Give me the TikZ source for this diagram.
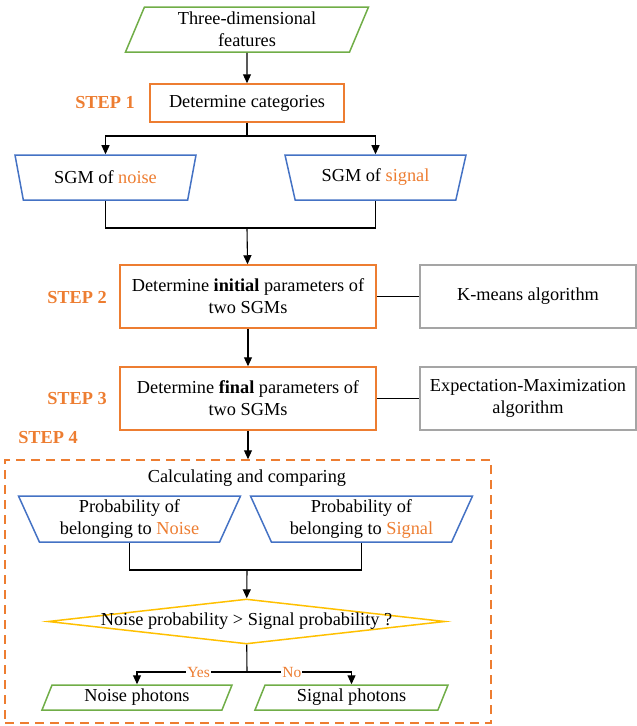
\documentclass[tikz,border=0pt]{standalone}
\usepackage{fontspec}
\setmainfont{Liberation Serif}
\usetikzlibrary{shapes.geometric,arrows.meta}
\definecolor{stepor}{HTML}{ED7D31}
\definecolor{datagr}{HTML}{70AD47}
\definecolor{modelbl}{HTML}{4472C4}
\definecolor{algogr}{HTML}{A5A5A5}
\definecolor{testyl}{HTML}{FFC000}
\begin{document}
\begin{tikzpicture}[
        x=1pt, y=-1pt,
        font=\fontsize{18.3}{22}\selectfont,
        proc/.style={draw=stepor, line width=1.5pt, align=center, minimum width=256pt, minimum height=63pt},
        algo/.style={draw=algogr, line width=1.5pt, align=center, minimum width=216pt, minimum height=63pt},
        data/.style={trapezium, trapezium stretches body, trapezium left angle=64, trapezium right angle=116, draw=datagr, line width=1.5pt, align=center, inner sep=2pt},
        model/.style={trapezium, trapezium stretches body, trapezium left angle=116, trapezium right angle=116, draw=modelbl, line width=1.5pt, align=center, inner sep=2pt},
        test/.style={diamond, draw=testyl, line width=1.5pt, inner sep=0pt, minimum width=397pt, minimum height=45pt},
        steplabel/.style={text=stepor, font=\fontsize{18.3}{22}\selectfont\bfseries},
        answer/.style={text=stepor, fill=white, inner sep=1pt, font=\fontsize{15.5}{18}\selectfont},
        forward/.style={-{Triangle[width=8pt,length=9pt]}, line width=1.1pt},
        link/.style={line width=1.1pt}
    ]
        \useasboundingbox (0,0) rectangle (637,726);
        % steps 1 to 3
        \node[data, minimum width=243pt, minimum height=45pt] (feat) at (247,29.5) {Three-dimensional\\features};
        \node[proc, minimum width=194pt, minimum height=38pt] (cat) at (247,103) {Determine categories};
        \node[steplabel] (s1) at (105,103) {STEP 1};
        \node[model, minimum width=181pt, minimum height=45pt] (sgmn) at (105.5,177.5) {SGM of \textcolor{stepor}{noise}};
        \node[model, minimum width=181pt, minimum height=45pt] (sgms) at (375.5,177.5) {SGM of \textcolor{stepor}{signal}};
        \node[proc] (init) at (248,296.5) {Determine \textbf{initial} parameters of\\two SGMs};
        \node[algo] (kmeans) at (528,296.5) {K-means algorithm};
        \node[steplabel] (s2) at (77,298) {STEP 2};
        \node[proc] (final) at (248,398.5) {Determine \textbf{final} parameters of\\two SGMs};
        \node[algo] (em) at (528,398.5) {Expectation-Maximization\\algorithm};
        \node[steplabel] (s3) at (77,399) {STEP 3};
        \coordinate (b1) at (247,136);
        \coordinate (m1) at (247,228);
        \draw[forward] (feat) -- (cat);
        \draw[forward] (cat) -- (b1) -| (sgmn);
        \draw[forward] (b1) -| (sgms);
        \draw[link] (sgmn.south) |- (m1) -| (sgms.south);
        \draw[forward] (m1) -- (init);
        \draw[link] (init) -- (kmeans);
        \draw[forward] (init) -- (final);
        \draw[link] (final) -- (em);
        % step 4
        \node[draw=stepor, dash pattern=on 9pt off 6pt, line width=1.5pt, minimum width=486pt, minimum height=263pt] (frame) at (248,591.5) {};
        \node[steplabel] (s4) at (48,438) {STEP 4};
        \draw[forward] (final) -- (frame.north);
        \node (calc) at (247,478) {Calculating and comparing};
        \node[model, minimum width=222pt, minimum height=46pt] (pn) at (129.5,519) {Probability of\\belonging to \textcolor{stepor}{Noise}};
        \node[model, minimum width=222pt, minimum height=46pt] (ps) at (361.5,519) {Probability of\\belonging to \textcolor{stepor}{Signal}};
        \node[test] (dec) at (246.5,621.5) {\makebox[0pt]{Noise probability > Signal probability ?}};
        \node[data, minimum width=190pt, minimum height=25pt] (nph) at (137,697.5) {Noise photons};
        \node[data, minimum width=193pt, minimum height=25pt] (sph) at (351.5,697.5) {Signal photons};
        \coordinate (m2) at (247,570);
        \coordinate (b2) at (247,672);
        \draw[link] (pn.south) |- (m2) -| (ps.south);
        \draw[forward] (m2) -- (dec);
        \draw[link] (dec) -- (b2);
        \draw[forward] (b2) -| (nph) node[answer, pos=0.22] (yes) {Yes};
        \draw[forward] (b2) -| (sph) node[answer, pos=0.215] (no) {No};
    \end{tikzpicture}
\end{document}
